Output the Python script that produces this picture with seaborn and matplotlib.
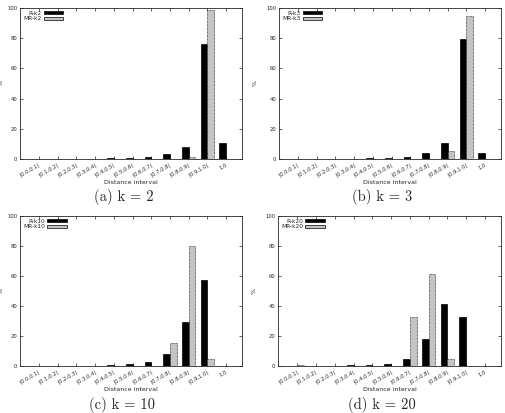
import matplotlib
matplotlib.use("Agg")
import matplotlib.pyplot as plt
import seaborn as sns
import pandas as pd

# ----------------------------------------------
# data
# ----------------------------------------------
intervals = ["[0.0,0.1)", "[0.1,0.2)", "[0.2,0.3)", "[0.3,0.4)", "[0.4,0.5)",
             "[0.5,0.6)", "[0.6,0.7)", "[0.7,0.8)", "[0.8,0.9)", "[0.9,1.0)", "1.0"]

r_k2 = [0.0, 0.0, 0.1, 0.3, 0.5, 0.8, 1.5, 3.1, 8.2, 76.0, 10.6]
mr_k2 = [0.0, 0.0, 0.0, 0.0, 0.0, 0.0, 0.0, 0.0, 1.0, 98.7, 0.0]

r_k3 = [0.0, 0.0, 0.1, 0.2, 0.4, 0.7, 1.5, 3.7, 10.6, 79.5, 3.7]
mr_k3 = [0.2, 0.0, 0.0, 0.0, 0.0, 0.0, 0.0, 0.0, 5.3, 94.7, 0.0]

r_k10 = [0.3, 0.0, 0.1, 0.2, 0.5, 1.2, 2.6, 7.9, 29.1, 57.6, 0.0]
mr_k10 = [0.3, 0.0, 0.0, 0.0, 0.0, 0.0, 0.0, 15.2, 80.1, 4.6, 0.0]

r_k20 = [0.3, 0.2, 0.2, 0.5, 0.8, 1.2, 4.6, 17.7, 41.5, 32.5, 0.0]
mr_k20 = [1.0, 0.0, 0.0, 0.0, 0.0, 0.0, 32.9, 61.6, 4.6, 0.0, 0.0]

panels = [
    ("k2", r_k2, mr_k2, "(a) k = 2"),
    ("k3", r_k3, mr_k3, "(b) k = 3"),
    ("k10", r_k10, mr_k10, "(c) k = 10"),
    ("k20", r_k20, mr_k20, "(d) k = 20"),
]

# axes boxes in pixels: left, top, right, bottom
W, H = 505, 413
boxes = [(20, 8, 242, 159), (279, 8, 501, 159),
         (20, 216, 242, 366), (278, 216, 501, 366)]
caption_pos = [(124, 197), (382, 197), (122, 405), (382, 405)]
ylabel_x = [-0.072, -0.095, -0.072, -0.095]

sns.set_style("ticks")
plt.rcParams["font.family"] = ["DejaVu Sans"]

fig = plt.figure(figsize=(W / 100, H / 100), dpi=100)

for (k, r_vals, mr_vals, caption), (l, t, r, b), (cx, cy), yl in zip(panels, boxes, caption_pos, ylabel_x):
    ax = fig.add_axes([l / W, 1 - b / H, (r - l) / W, (b - t) / H])

    df = pd.DataFrame({
        "interval": intervals * 2,
        "value": r_vals + mr_vals,
        "series": ["R-" + k] * len(intervals) + ["MR-" + k] * len(intervals),
    })
    sns.barplot(data=df, x="interval", y="value", hue="series",
                palette=["black", "#c4c4c4"], width=0.72, edgecolor="black",
                linewidth=0.5, ax=ax, legend=True)
    # dotted outline on the MR bars, like the gnuplot pattern
    for p in ax.containers[1]:
        p.set_linestyle((0, (1, 1)))

    ax.set_xlim(-1.02, 10.85)
    ax.set_ylim(0, 100)
    ax.set_yticks(range(0, 101, 20))
    ax.set_xlabel("Distance interval", fontsize=4.5, labelpad=1)
    ax.set_ylabel("%", fontsize=4.5)
    ax.yaxis.set_label_coords(yl, 0.5)
    ax.tick_params(axis="both", direction="in", length=2.5, width=0.5,
                   labelsize=3.8, top=True, right=True, pad=2)
    ax.tick_params(axis="x", pad=2.5)
    plt.setp(ax.get_xticklabels(), rotation=30, ha="right", rotation_mode="anchor")
    for s in ax.spines.values():
        s.set_linewidth(0.6)
        s.set_visible(True)

    handles, labels = ax.get_legend_handles_labels()
    ax.legend(handles, labels, loc="upper left", frameon=False, markerfirst=False,
              fontsize=4.2, handlelength=3.4, handleheight=0.4, handletextpad=0.4,
              labelspacing=0.1, borderaxespad=0.2, borderpad=0.3)

    fig.text(cx / W, 1 - cy / H, caption, ha="center", va="center",
             fontsize=10.5, family=["cmr10", "DejaVu Serif"])

fig.savefig("out.png", dpi=100)
